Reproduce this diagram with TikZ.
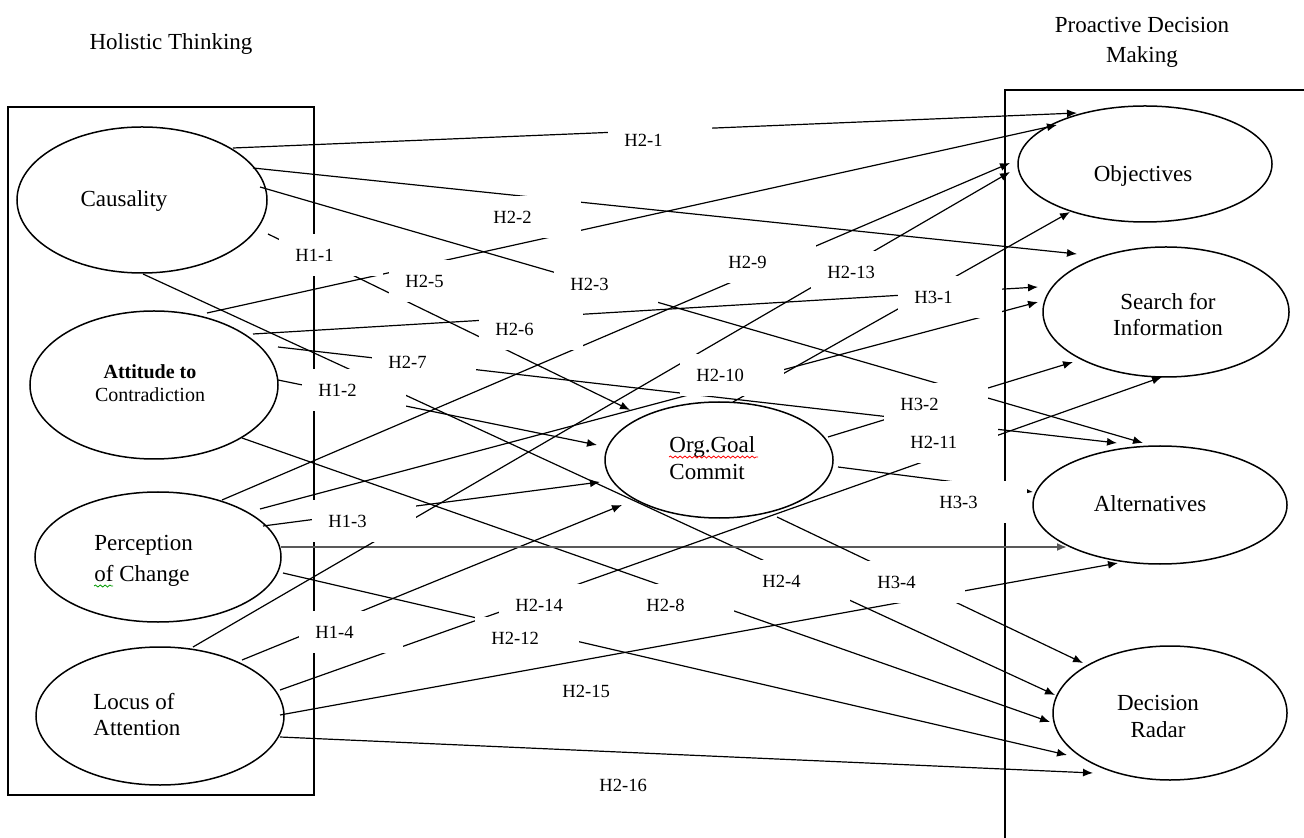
\documentclass[tikz,border=0pt]{standalone}
\usepackage{fontspec}
\setmainfont{Liberation Serif}
\usetikzlibrary{arrows.meta,calc,shapes.geometric,decorations.pathmorphing}
\begin{document}
\begin{tikzpicture}[x=0.5pt,y=-0.5pt,
  ell/.style={ellipse, draw, line width=0.75pt, inner sep=0pt},
  conn/.style={line width=0.6pt, -{Latex[length=5pt,width=4pt]}},
  hyp/.style={fill=white, anchor=west, text width=36pt, inner xsep=8pt, inner ysep=0pt,
    minimum height=21pt, align=left, font=\fontsize{9.3}{11}\selectfont},
  etext/.style={font=\fontsize{11.5}{13}\selectfont, inner sep=0pt},
  frame/.style={line width=0.75pt},
  wavy/.style={line width=0.4pt, decorate, decoration={snake, amplitude=0.5pt, segment length=2.4pt}}
  ]
\useasboundingbox (0,0) rectangle (1304,838);

% titles
\node[etext, anchor=base] (tleft) at (171,50) {Holistic Thinking};
\node[etext, align=center, font=\fontsize{11.5}{15}\selectfont] (tright) at (1142,42) {Proactive Decision\\Making};

% frames
\draw[frame] (8,107) rectangle (314,795);
\draw[frame] (1304,90) -- (1005,90) -- (1005,838);

% ellipses
\node[ell, minimum width=125pt, minimum height=73pt] (caus) at (142,200) {};
\node[ell, minimum width=124pt, minimum height=74pt] (att) at (154,385) {};
\node[ell, minimum width=123pt, minimum height=65pt] (perc) at (158,557) {};
\node[ell, minimum width=124pt, minimum height=69pt] (loc) at (160,716) {};
\node[ell, minimum width=114pt, minimum height=58pt] (org) at (719,460) {};
\node[ell, minimum width=127pt, minimum height=58pt] (obj) at (1145,164) {};
\node[ell, minimum width=123pt, minimum height=65pt] (sea) at (1166,312) {};
\node[ell, minimum width=127pt, minimum height=59pt] (alt) at (1160,505) {};
\node[ell, minimum width=117pt, minimum height=67pt] (dec) at (1170,713) {};

% ellipse texts
\node[etext, anchor=base] (caustxt) at (124,207) {Causality};
\node[inner sep=0pt, align=center, font=\fontsize{10}{11.25}\selectfont] (atttxt) at (150,383)
  {\textbf{Attitude to}\\Contradiction};
\node[etext, anchor=west, align=left, font=\fontsize{11.5}{15.5}\selectfont] (perctxt) at (94,561) {Perception\\of Change};
\node[etext, anchor=west, align=left] (loctxt) at (93,715) {Locus of\\Attention};
\node[etext, anchor=west, align=left, font=\fontsize{11.5}{13.5}\selectfont] (orgtxt) at (669,458) {Org.Goal\\Commit};
\node[etext, anchor=base] (objtxt) at (1143,182) {Objectives};
\node[etext, align=center] (seatxt) at (1168,315) {Search for\\Information};
\node[etext, anchor=base] (alttxt) at (1150,511) {Alternatives};
\node[etext, align=center, font=\fontsize{11.5}{13.5}\selectfont] (dectxt) at (1158,716) {Decision\\Radar};

% spell-check underlines
\draw[wavy, red] (669,457) -- (758,457);
\draw[wavy, green!60!black] (94,586) -- (113,586);

% H1: holistic thinking -> org goal commitment
\draw[conn] ($(caus)+(126,34)$) -- ($(org)+(-89,-50)$);
\draw[conn] ($(att)+(124,-5)$) -- ($(org)+(-122,-15)$);
\draw[conn] ($(perc)+(105,-31)$) -- ($(org)+(-119,22)$);
\draw[conn] ($(loc)+(82,-56)$) -- ($(org)+(-97,45)$);
% H2: causality
\draw[conn] ($(caus)+(91,-52)$) -- ($(obj)+(-68,-51)$);
\draw[conn] ($(caus)+(111,-32)$) -- ($(sea)+(-89,-58)$);
\draw[conn] ($(caus)+(118,-13)$) -- ($(alt)+(-17,-62)$);
\draw[conn] ($(caus)+(1,74)$) -- ($(dec)+(-115,-18)$);
% H2: attitude
\draw[conn] ($(att)+(53,-72)$) -- ($(obj)+(-88,-39)$);
\draw[conn] ($(att)+(99,-51)$) -- ($(sea)+(-128,-25)$);
\draw[conn] ($(att)+(124,-38)$) -- ($(alt)+(-43,-62)$);
\draw[conn] ($(att)+(88,53)$) -- ($(dec)+(-120,9)$);
% H2: perception
\draw[conn] ($(perc)+(64,-57)$) -- ($(obj)+(-135,-1)$);
\draw[conn] ($(perc)+(102,-48)$) -- ($(sea)+(-128,-10)$);
\draw[conn, draw=black!65, line width=0.9pt] ($(perc)+(123,-10)$) -- ($(alt)+(-93,42)$);
\draw[conn] ($(perc)+(125,16)$) -- ($(dec)+(-103,42)$);
% H2: locus
\draw[conn] ($(loc)+(33,-69)$) -- ($(obj)+(-135,8)$);
\draw[conn] ($(loc)+(120,-26)$) -- ($(sea)+(-4,65)$);
\draw[conn] ($(loc)+(120,-1)$) -- ($(alt)+(-42,58)$);
\draw[conn] ($(loc)+(120,21)$) -- ($(dec)+(-77,60)$);
% H3: org goal commitment -> proactive decision making
\draw[conn] ($(org)+(14,-58)$) -- ($(obj)+(-75,48)$);
\draw[conn] ($(org)+(109,-23)$) -- ($(sea)+(-93,50)$);
\draw[conn] ($(org)+(119,7)$) -- ($(alt)+(-127,-13)$);
\draw[conn] ($(org)+(58,57)$) -- ($(dec)+(-87,-50)$);

% hypothesis labels (white text boxes)
\node[hyp] (h11) at (279,255) {H1-1};
\node[hyp] (h12) at (302,390) {H1-2};
\node[hyp] (h13) at (312,521) {H1-3};
\node[hyp] (h14) at (299,632) {H1-4};
\node[hyp] (h21) at (608,140) {H2-1};
\node[hyp] (h22) at (477,217) {H2-2};
\node[hyp] (h23) at (554,284) {H2-3};
\node[hyp] (h24) at (746,581) {H2-4};
\node[hyp] (h25) at (389,281) {H2-5};
\node[hyp] (h26) at (479,329) {H2-6};
\node[hyp] (h27) at (372,362) {H2-7};
\node[hyp] (h28) at (630,605) {H2-8};
\node[hyp] (h29) at (712,262) {H2-9};
\node[hyp] (h210) at (680,375) {H2-10};
\node[hyp] (h211) at (894,442) {H2-11};
\node[hyp] (h214) at (499,605) {H2-14};
\node[hyp] (h212) at (475,638) {H2-12};
\node[hyp] (h213) at (811,272) {H2-13};
\node[hyp] (h215) at (546,691) {H2-15};
\node[hyp] (h216) at (583,785) {H2-16};
\node[hyp] (h31) at (898,297) {H3-1};
\node[hyp] (h32) at (884,404) {H3-2};
\node[hyp] (h33) at (923,502) {H3-3};
\node[hyp] (h34) at (861,582) {H3-4};
\end{tikzpicture}
\end{document}
